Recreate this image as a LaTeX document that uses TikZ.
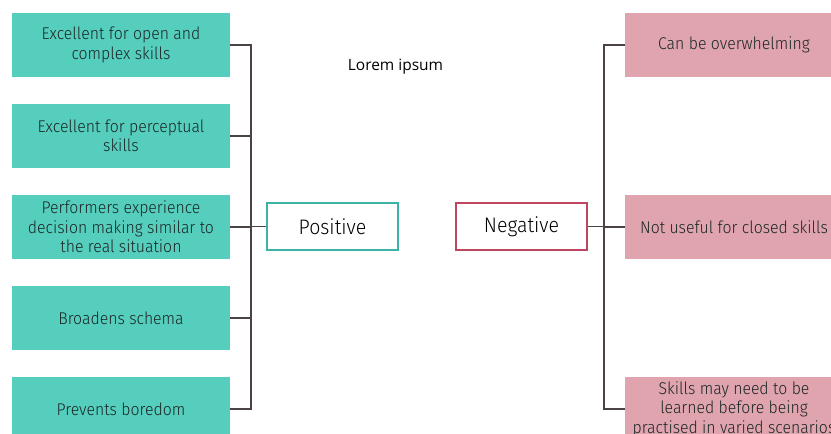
\documentclass[tikz,border=0pt]{standalone}
\usepackage{fontspec}
\setmainfont[FakeStretch=0.93]{Fira Sans Light}
\newfontfamily\captionfont{Open Sans}
\definecolor{posfill}{HTML}{56CEBE}
\definecolor{negfill}{HTML}{E0A4AE}
\definecolor{posline}{HTML}{3BB3A6}
\definecolor{negline}{HTML}{BF4660}
\definecolor{linkline}{HTML}{4C4146}
\definecolor{inktext}{HTML}{1A2624}
\begin{document}
\begin{tikzpicture}[x=1pt,y=-1pt,
  posbox/.style={fill=posfill,draw=none,minimum width=218pt,minimum height=64pt,
    align=center,inner sep=0pt,text=inktext,font=\fontsize{17}{19.5}\selectfont},
  negbox/.style={fill=negfill,draw=none,minimum width=218pt,minimum height=64pt,
    align=center,inner sep=0pt,text=inktext,font=\fontsize{17}{19.5}\selectfont},
  hubpos/.style={draw=posline,line width=1.2pt,fill=white,minimum width=131pt,
    minimum height=47pt,inner sep=0pt,font=\fontsize{21}{24}\selectfont,text=black},
  hubneg/.style={draw=negline,line width=1.2pt,fill=white,minimum width=131pt,
    minimum height=47pt,inner sep=0pt,font=\fontsize{21}{24}\selectfont,text=black},
  link/.style={draw=linkline,line width=1.3pt}]
\useasboundingbox (0,0) rectangle (831,434);
\clip (0,0) rectangle (831,434);

% advantages
\node[posbox] (p1) at (121,45)  {Excellent for open and\\complex skills};
\node[posbox] (p2) at (121,136) {Excellent for perceptual\\skills};
\node[posbox] (p3) at (121,227) {Performers experience\\decision making similar to\\the real situation};
\node[posbox] (p4) at (121,318) {Broadens schema};
\node[posbox] (p5) at (121,409) {Prevents boredom};

% disadvantages
\node[negbox] (n1) at (734,45)  {Can be overwhelming};
\node[negbox] (n2) at (734,227) {Not useful for closed skills};
\node[negbox] (n3) at (734,409) {Skills may need to be\\learned before being\\practised in varied scenarios};

% central labels
\node[hubpos] (pos) at (332.5,226.5) {Positive};
\node[hubneg] (neg) at (521.5,226.5) {Negative};

\node[font=\captionfont\fontsize{15.5}{18}\selectfont] (cap) at (395.5,67) {Lorem ipsum};

% bracket joining the advantages
\coordinate (pbus) at (251,0);
\draw[link] (p1.east) -| (pbus |- p5.east) -- (p5.east);
\foreach \n in {p2,p3,p4} \draw[link] (\n.east) -- (pbus |- \n.east);
\draw[link] (pbus |- pos.west) -- (pos.west);

% bracket joining the disadvantages
\coordinate (nbus) at (604,0);
\draw[link] (n1.west) -| (nbus |- n3.west) -- (n3.west);
\draw[link] (n2.west) -- (nbus |- n2.west);
\draw[link] (neg.east) -- (nbus |- neg.east);
\end{tikzpicture}
\end{document}
